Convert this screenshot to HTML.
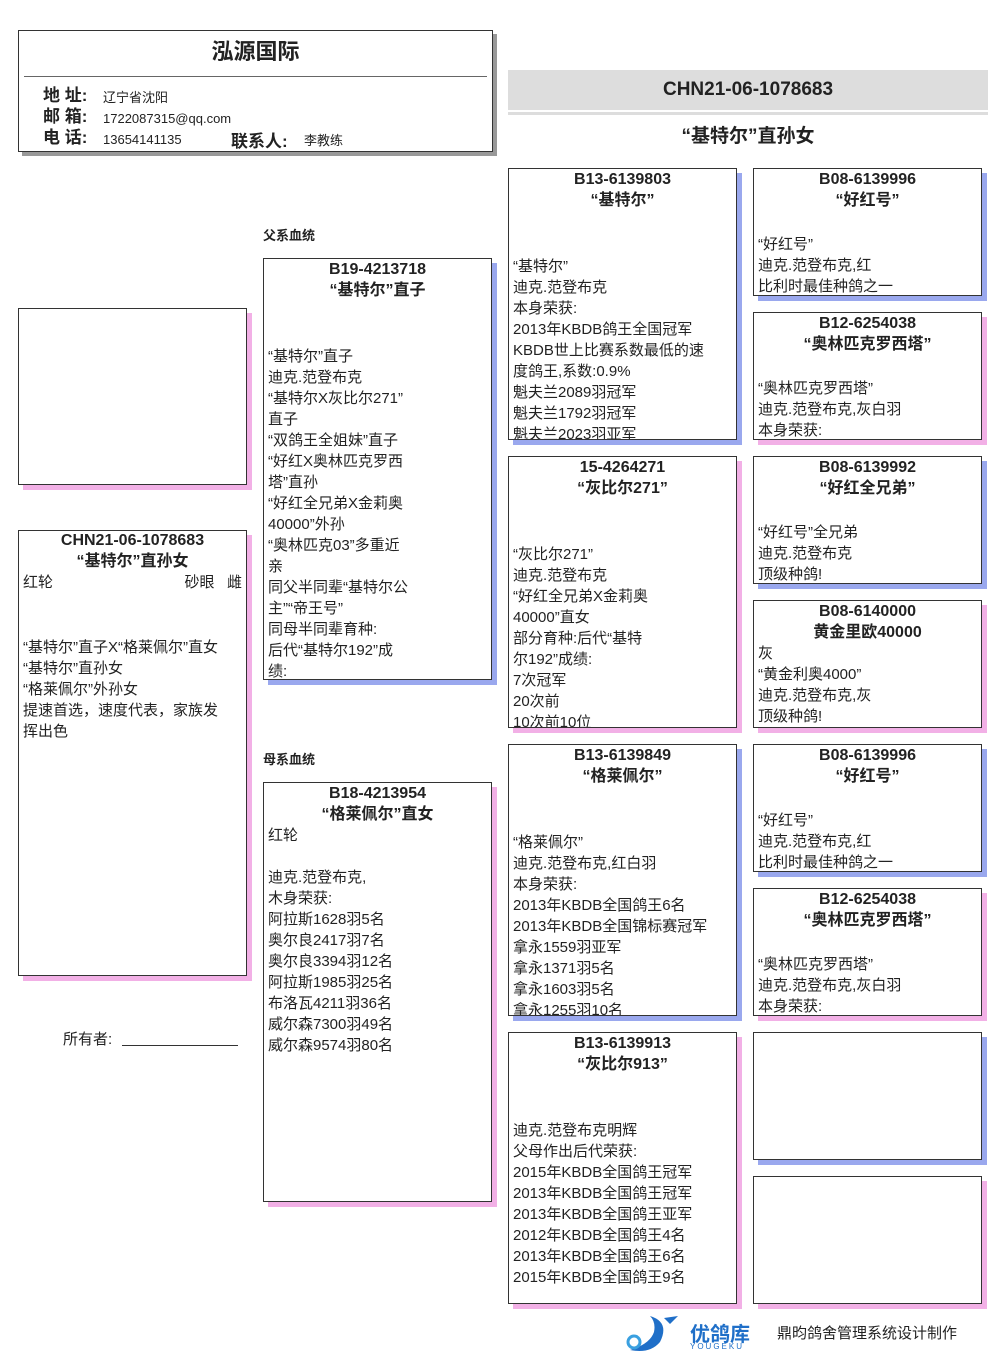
<!DOCTYPE html>
<html><head><meta charset="utf-8"><style>
*{margin:0;padding:0;box-sizing:border-box}
body{width:1006px;height:1366px;background:#fff;position:relative;font-family:"Liberation Sans","Noto Sans CJK SC",sans-serif;color:#222;overflow:hidden}
.b{position:absolute;border:1px solid #333;background:#fff;overflow:hidden}
.m{box-shadow:5px 5px 0 #9aa8ee}
.f{box-shadow:5px 5px 0 #f2b0e6}
.t{text-align:center;font-weight:bold;font-size:16px;line-height:21px;margin-top:0px}
.x{font-size:15px;line-height:21px;padding-left:4px;white-space:nowrap}
.a{position:absolute;font-size:13px;font-weight:bold}
</style></head><body>
<div class="b" style="left:18px;top:30px;width:475px;height:122px;box-shadow:4px 4px 0 #999">
<div style="text-align:center;font-size:22px;font-weight:bold;margin-top:3px">泓源国际</div>
<div style="border-top:1px solid #666;margin:10px 5px 0 5px"></div>
<div style="position:absolute;left:24px;top:54px;font-size:17px;line-height:21px;font-weight:bold">地 址:<br>邮 箱:<br>电 话:</div>
<div style="position:absolute;left:84px;top:56px;font-size:13px;line-height:21px">辽宁省沈阳<br>1722087315@qq.com<br>13654141135</div>
<div style="position:absolute;left:212px;top:96px;font-size:17px;font-weight:bold">联系人:</div>
<div style="position:absolute;left:285px;top:99px;font-size:13px">李教练</div>
</div>
<div style="position:absolute;left:508px;top:70px;width:480px;height:40px;background:#ddd;text-align:center;font-weight:bold;font-size:19px;line-height:40px">CHN21-06-1078683</div>
<div style="position:absolute;left:508px;top:112px;width:480px;height:3px;background:#ddd"></div>
<div style="position:absolute;left:508px;top:121px;width:480px;text-align:center;font-weight:bold;font-size:19px">“基特尔”直孙女</div>

<div class="b f" style="left:18px;top:308px;width:229px;height:177px"></div>
<div class="b f" style="left:18px;top:530px;width:229px;height:446px">
<div class="t" style="margin-top:-1px">CHN21-06-1078683<br>“基特尔”直孙女</div>
<div class="x" style="display:flex;justify-content:space-between;padding-right:4px"><span>红轮</span><span>砂眼&nbsp;&nbsp;&nbsp;雌</span></div>
<div class="x" style="margin-top:44px">“基特尔”直子X“格莱佩尔”直女<br>“基特尔”直孙女<br>“格莱佩尔”外孙女<br>提速首选，速度代表，家族发<br>挥出色</div>
</div>
<div style="position:absolute;left:63px;top:1028px;font-size:15px">所有者: <span style="display:inline-block;width:116px;border-bottom:1px solid #333;vertical-align:-2px;margin-left:6px"></span></div>

<div class="a" style="left:263px;top:225px">父系血统</div>
<div class="b m" style="left:263px;top:258px;width:229px;height:422px">
<div class="t">B19-4213718<br>“基特尔”直子</div>
<div class="x" style="margin-top:45px">“基特尔”直子<br>迪克.范登布克<br>“基特尔X灰比尔271”<br>直子<br>“双鸽王全姐妹”直子<br>“好红X奥林匹克罗西<br>塔”直孙<br>“好红全兄弟X金莉奥<br>40000”外孙<br>“奥林匹克03”多重近<br>亲<br>同父半同辈“基特尔公<br>主”“帝王号”<br>同母半同辈育种:<br>后代“基特尔192”成<br>绩:</div>
</div>
<div class="a" style="left:263px;top:749px">母系血统</div>
<div class="b f" style="left:263px;top:782px;width:229px;height:420px">
<div class="t">B18-4213954<br>“格莱佩尔”直女</div>
<div class="x">红轮<br><br>迪克.范登布克,<br>木身荣获:<br>阿拉斯1628羽5名<br>奥尔良2417羽7名<br>奥尔良3394羽12名<br>阿拉斯1985羽25名<br>布洛瓦4211羽36名<br>威尔森7300羽49名<br>威尔森9574羽80名</div>
</div>

<div class="b m" style="left:508px;top:168px;width:229px;height:272px">
<div class="t">B13-6139803<br>“基特尔”</div>
<div class="x" style="margin-top:45px">“基特尔”<br>迪克.范登布克<br>本身荣获:<br>2013年KBDB鸽王全国冠军<br>KBDB世上比赛系数最低的速<br>度鸽王,系数:0.9%<br>魁夫兰2089羽冠军<br>魁夫兰1792羽冠军<br>魁夫兰2023羽亚军</div>
</div>
<div class="b f" style="left:508px;top:456px;width:229px;height:272px">
<div class="t">15-4264271<br>“灰比尔271”</div>
<div class="x" style="margin-top:45px">“灰比尔271”<br>迪克.范登布克<br>“好红全兄弟X金莉奥<br>40000”直女<br>部分育种:后代“基特<br>尔192”成绩:<br>7次冠军<br>20次前<br>10次前10位</div>
</div>
<div class="b m" style="left:508px;top:744px;width:229px;height:272px">
<div class="t">B13-6139849<br>“格莱佩尔”</div>
<div class="x" style="margin-top:45px">“格莱佩尔”<br>迪克.范登布克,红白羽<br>本身荣获:<br>2013年KBDB全国鸽王6名<br>2013年KBDB全国锦标赛冠军<br>拿永1559羽亚军<br>拿永1371羽5名<br>拿永1603羽5名<br>拿永1255羽10名</div>
</div>
<div class="b f" style="left:508px;top:1032px;width:229px;height:272px">
<div class="t">B13-6139913<br>“灰比尔913”</div>
<div class="x" style="margin-top:45px">迪克.范登布克明辉<br>父母作出后代荣获:<br>2015年KBDB全国鸽王冠军<br>2013年KBDB全国鸽王冠军<br>2013年KBDB全国鸽王亚军<br>2012年KBDB全国鸽王4名<br>2013年KBDB全国鸽王6名<br>2015年KBDB全国鸽王9名</div>
</div>

<div class="b m" style="left:753px;top:168px;width:229px;height:128px">
<div class="t">B08-6139996<br>“好红号”</div>
<div class="x" style="margin-top:23px">“好红号”<br>迪克.范登布克,红<br>比利时最佳种鸽之一</div></div>
<div class="b f" style="left:753px;top:312px;width:229px;height:128px">
<div class="t">B12-6254038<br>“奥林匹克罗西塔”</div>
<div class="x" style="margin-top:23px">“奥林匹克罗西塔”<br>迪克.范登布克,灰白羽<br>本身荣获:</div></div>
<div class="b m" style="left:753px;top:456px;width:229px;height:128px">
<div class="t">B08-6139992<br>“好红全兄弟”</div>
<div class="x" style="margin-top:23px">“好红号”全兄弟<br>迪克.范登布克<br>顶级种鸽!</div></div>
<div class="b f" style="left:753px;top:600px;width:229px;height:128px">
<div class="t">B08-6140000<br>黄金里欧40000</div>
<div class="x">灰<br>“黄金利奥4000”<br>迪克.范登布克,灰<br>顶级种鸽!</div></div>
<div class="b m" style="left:753px;top:744px;width:229px;height:128px">
<div class="t">B08-6139996<br>“好红号”</div>
<div class="x" style="margin-top:23px">“好红号”<br>迪克.范登布克,红<br>比利时最佳种鸽之一</div></div>
<div class="b f" style="left:753px;top:888px;width:229px;height:128px">
<div class="t">B12-6254038<br>“奥林匹克罗西塔”</div>
<div class="x" style="margin-top:23px">“奥林匹克罗西塔”<br>迪克.范登布克,灰白羽<br>本身荣获:</div></div>
<div class="b m" style="left:753px;top:1032px;width:229px;height:128px"></div>
<div class="b f" style="left:753px;top:1176px;width:229px;height:128px"></div>

<svg style="position:absolute;left:620px;top:1312px" width="66" height="44"><path d="M30 4 Q50 10 40 30 Q30 42 10 38 Q30 32 34 20 Q36 10 30 4Z" fill="#1f6fc8"/><path d="M44 6 L58 4 L50 12Z" fill="#1f6fc8"/><circle cx="14" cy="30" r="6" fill="none" stroke="#3aa0e0" stroke-width="3"/></svg>
<div style="position:absolute;left:690px;top:1318px;font-size:20px;font-weight:bold;color:#1f6fc8">优鸽库</div>
<div style="position:absolute;left:690px;top:1342px;font-size:8px;color:#1f6fc8;letter-spacing:2px">YOUGEKU</div>
<div style="position:absolute;left:777px;top:1322px;font-size:15px">鼎昀鸽舍管理系统设计制作</div>
</body></html>
